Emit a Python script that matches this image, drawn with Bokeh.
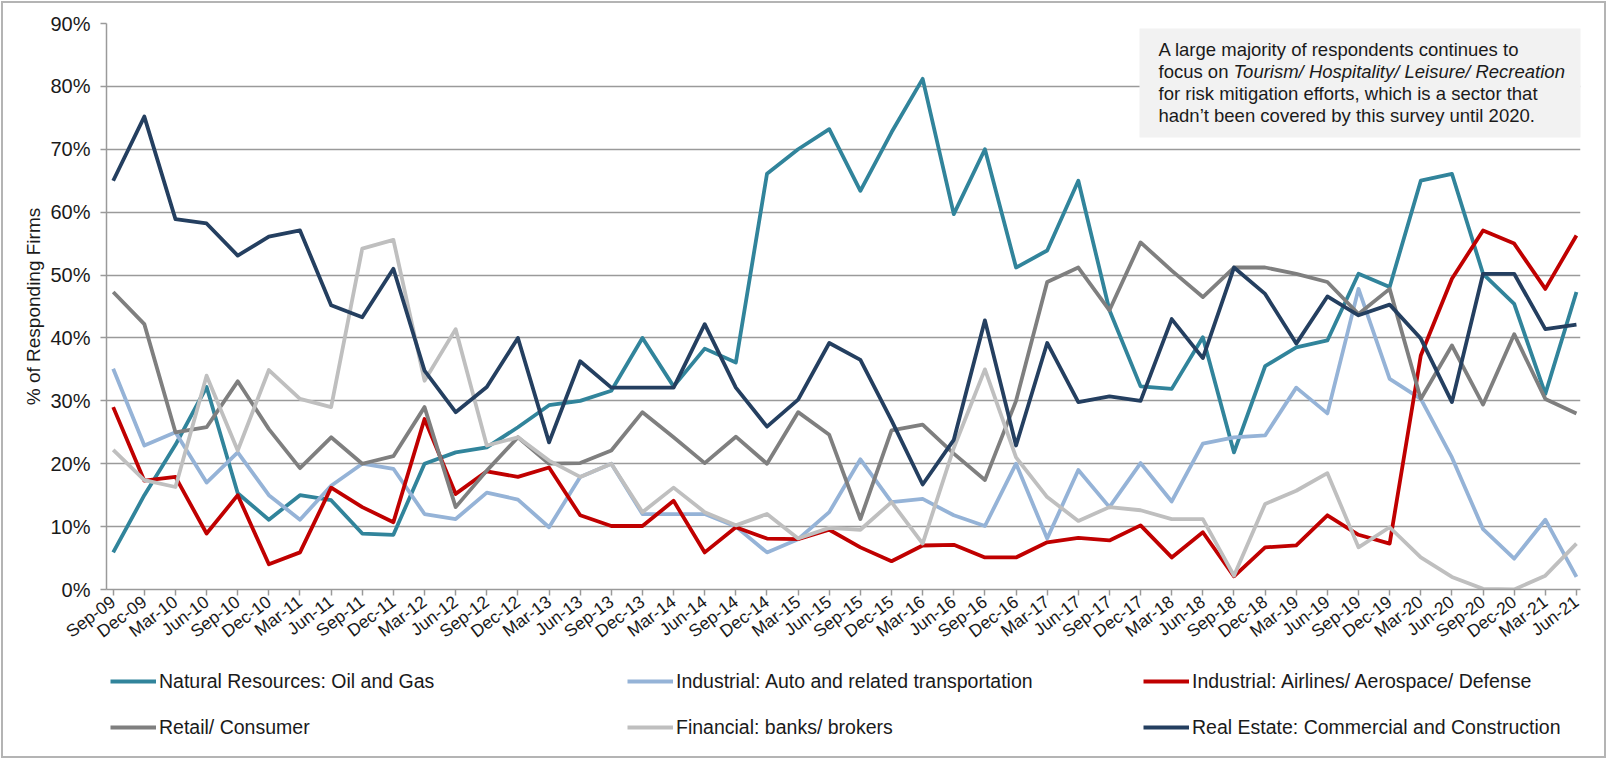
from bokeh.plotting import figure
from bokeh.layouts import column
from bokeh.models import (FixedTicker, PrintfTickFormatter, Legend, LegendItem,
                          Label, BoxAnnotation, Range1d)
from bokeh.embed import file_html
from bokeh.resources import INLINE

quarters = ["Sep-09", "Dec-09", "Mar-10", "Jun-10", "Sep-10", "Dec-10", "Mar-11", "Jun-11",
            "Sep-11", "Dec-11", "Mar-12", "Jun-12", "Sep-12", "Dec-12", "Mar-13", "Jun-13",
            "Sep-13", "Dec-13", "Mar-14", "Jun-14", "Sep-14", "Dec-14", "Mar-15", "Jun-15",
            "Sep-15", "Dec-15", "Mar-16", "Jun-16", "Sep-16", "Dec-16", "Mar-17", "Jun-17",
            "Sep-17", "Dec-17", "Mar-18", "Jun-18", "Sep-18", "Dec-18", "Mar-19", "Jun-19",
            "Sep-19", "Dec-19", "Mar-20", "Jun-20", "Sep-20", "Dec-20", "Mar-21", "Jun-21"]

natural_resources = [5.9, 15, 23, 32.2, 15.3, 11.1, 15, 14.2, 8.9, 8.7, 20, 21.8, 22.6, 25.8,
                     29.3, 30, 31.6, 40, 32.3, 38.3, 36.1, 66.1, 70, 73.2, 63.4, 72.7, 81.2,
                     59.7, 70, 51.2, 53.9, 65, 44.4, 32.3, 31.9, 40.1, 21.8, 35.5, 38.5, 39.6,
                     50.2, 48.1, 65, 66.1, 50.2, 45.4, 31.1, 47.3]
industrial_auto = [35.1, 22.9, 25, 17, 21.8, 15, 11.1, 16.5, 20, 19.2, 12, 11.2, 15.4, 14.3,
                   9.9, 17.9, 20, 12, 12, 12, 10, 5.9, 8, 12.3, 20.7, 13.9, 14.4, 11.8, 10.1,
                   20, 8.1, 19, 13.1, 20.1, 14, 23.2, 24.2, 24.5, 32.1, 28, 47.8, 33.5, 30.3,
                   21, 9.6, 4.9, 11.1, 2]
industrial_airlines = [29, 17.3, 17.9, 8.9, 15, 4, 5.9, 16.2, 13.1, 10.7, 27.1, 15.2, 18.8,
                       17.9, 19.4, 11.8, 10.1, 10.1, 14.1, 5.9, 9.9, 8.1, 8, 9.5, 6.7, 4.5, 7,
                       7.1, 5.1, 5.1, 7.5, 8.2, 7.8, 10.2, 5.1, 9.1, 2.1, 6.7, 7, 11.8, 8.7,
                       7.3, 37.2, 49.4, 57.1, 55, 47.8, 56.3]
retail = [47.3, 42.2, 25, 25.8, 33.1, 25.5, 19.3, 24.2, 20, 21.2, 29, 13.1, 18.9, 24.2, 20,
          20.1, 22.1, 28.2, 24.2, 20.1, 24.3, 20, 28.2, 24.6, 11.2, 25.3, 26.2, 21.6, 17.4, 30,
          48.9, 51.2, 44.4, 55.2, 50.7, 46.5, 51.2, 51.2, 50.2, 48.9, 43.8, 47.8, 30.3, 38.8,
          29.4, 40.6, 30.3, 28]
financial = [22.2, 17.4, 16.3, 34, 22.1, 34.9, 30.3, 29, 54.2, 55.6, 33.2, 41.4, 22.9, 24.2,
             20.5, 17.9, 20, 12.3, 16.2, 12.3, 10.2, 12, 8.1, 9.8, 9.5, 13.9, 7.3, 22.5, 35, 21,
             14.7, 10.9, 13.1, 12.6, 11.2, 11.2, 2.2, 13.6, 15.7, 18.5, 6.7, 9.9, 5.1, 2, 0.1,
             0, 2.2, 7.3]
real_estate = [65, 75.2, 58.9, 58.2, 53.1, 56.1, 57.1, 45.2, 43.3, 51, 34.8, 28.2, 32.2, 40,
               23.4, 36.3, 32.1, 32.1, 32.1, 42.2, 32.1, 25.9, 30.2, 39.2, 36.5, 26.9, 16.7,
               23.8, 42.8, 22.9, 39.2, 29.8, 30.7, 30, 43, 36.8, 51.2, 47, 39.1, 46.6, 43.6,
               45.3, 39.9, 29.8, 50.2, 50.2, 41.4, 42.1]

series_names = ["Natural Resources: Oil and Gas", "Industrial: Auto and related transportation",
                "Industrial: Airlines/ Aerospace/ Defense", "Retail/ Consumer",
                "Financial: banks/ brokers", "Real Estate: Commercial and Construction"]
series_values = [natural_resources, industrial_auto, industrial_airlines, retail, financial,
                 real_estate]
series_colors = ["#31849B", "#95B3D7", "#C00000", "#7F7F7F", "#BFBFBF", "#243F60"]

FONT = "Liberation Sans"
TXT = "#1a1a1a"
GRID = "#9a9a9a"
LW = 3.8

W = 1601
H1, H2 = 652, 101
p = figure(width=W, height=H1, output_backend="svg", toolbar_location=None,
           x_range=Range1d(-0.215, 47.13), y_range=Range1d(0, 90),
           min_border_left=103, min_border_right=24, min_border_top=20,
           min_border_bottom=H1 - 586)
p.outline_line_color = None

xs = list(range(len(quarters)))
for vals, col in zip(series_values, series_colors):
    p.line(xs, vals, line_color=col, line_width=LW, line_join="round")

# grids
p.xgrid.visible = False
p.ygrid.grid_line_color = GRID
p.ygrid.grid_line_width = 1.5

# y axis
p.yaxis.ticker = FixedTicker(ticks=list(range(0, 91, 10)))
p.yaxis.formatter = PrintfTickFormatter(format="%d%%")
p.yaxis.axis_line_color = GRID
p.yaxis.axis_line_width = 1.5
p.yaxis.major_tick_line_color = GRID
p.yaxis.major_tick_line_width = 1.5
p.yaxis.major_tick_in = 0
p.yaxis.major_tick_out = 6
p.yaxis.minor_tick_line_color = None
p.yaxis.major_label_standoff = 10
p.yaxis.major_label_text_font = FONT
p.yaxis.major_label_text_font_size = "20px"
p.yaxis.major_label_text_color = TXT
p.yaxis.axis_label = "% of Responding Firms"
p.yaxis.axis_label_text_font = FONT
p.yaxis.axis_label_text_font_size = "19px"
p.yaxis.axis_label_text_font_style = "normal"
p.yaxis.axis_label_text_color = TXT
p.yaxis.axis_label_standoff = 3

# x axis
p.xaxis.ticker = FixedTicker(ticks=xs)
p.xaxis.major_label_overrides = {i: q for i, q in enumerate(quarters)}
p.xaxis.major_label_orientation = 0.645
p.xaxis.axis_line_color = GRID
p.xaxis.axis_line_width = 1.5
p.xaxis.major_tick_line_color = GRID
p.xaxis.major_tick_line_width = 1.5
p.xaxis.major_tick_in = 0
p.xaxis.major_tick_out = 6
p.xaxis.minor_tick_line_color = None
p.xaxis.major_label_standoff = 4
p.xaxis.major_label_text_font = FONT
p.xaxis.major_label_text_font_size = "17.5px"
p.xaxis.major_label_text_color = TXT

# annotation box
box = BoxAnnotation(left=1033, right=1484, top=561, bottom=452,
                    left_units="screen", right_units="screen",
                    top_units="screen", bottom_units="screen",
                    fill_color="#F2F2F2", fill_alpha=1, line_color=None)
p.add_layout(box)

note_lines = [
    (1052, 540.5, "A large majority of respondents continues to", "normal"),
    (1052, 518.5, "focus on ", "normal"),
    (1127, 518.5, "Tourism/ Hospitality/ Leisure/ Recreation", "italic"),
    (1052, 496, "for risk mitigation efforts, which is a sector that", "normal"),
    (1052, 474, "hadn\u2019t been covered by this survey until 2020.", "normal"),
]
for x, y, t, st in note_lines:
    p.add_layout(Label(x=x, y=y, x_units="screen", y_units="screen", text=t,
                       text_font=FONT, text_font_size="18.5px", text_font_style=st,
                       text_color=TXT, text_baseline="alphabetic", text_align="left"))

# legend strip (a second figure whose lines lie outside its visible range)
q = figure(width=W, height=H2, output_backend="svg", toolbar_location=None,
           x_range=Range1d(0, 1), y_range=Range1d(1000, 1001),
           min_border_left=0, min_border_right=0, min_border_top=0, min_border_bottom=0)
q.axis.visible = False
q.grid.visible = False
q.outline_line_color = None
leg_renderers = [q.line(xs, vals, line_color=col, line_width=LW)
                 for vals, col in zip(series_values, series_colors)]

for xloc, idxs in [(4, [0, 3]), (521, [1, 4]), (1037, [2, 5])]:
    lg = Legend(items=[LegendItem(label=series_names[i], renderers=[leg_renderers[i]])
                       for i in idxs],
                location=(xloc, 17), orientation="vertical", padding=0, margin=0,
                spacing=22, glyph_width=46, glyph_height=24, label_height=24,
                label_standoff=3, label_text_font=FONT, label_text_font_size="19.5px",
                label_text_color=TXT, border_line_color=None, background_fill_alpha=0)
    q.add_layout(lg)

layout = column(p, q, spacing=0)
layout.styles = {"margin": "3px", "outline": "2px solid #b4b4b4"}

open("out.html", "w").write(file_html(layout, INLINE))
